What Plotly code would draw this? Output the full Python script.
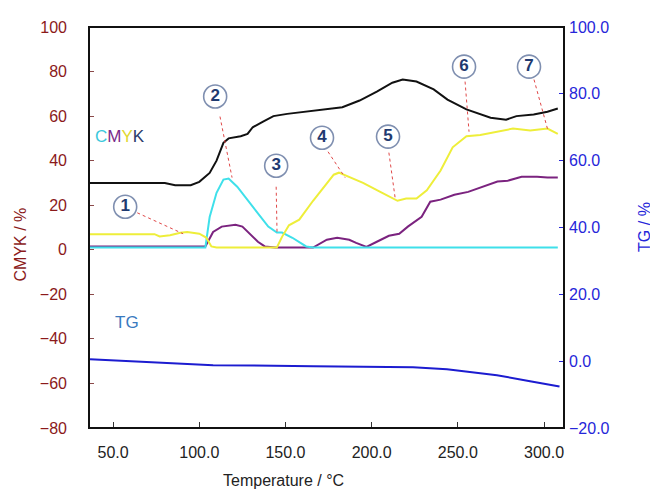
import plotly.graph_objects as go

# ---- data ----
k_x = [36, 80, 86, 95, 100, 106, 110, 114, 117, 124, 128, 131, 137, 143, 151, 162, 174, 183, 193, 203, 212, 218, 226, 236, 244, 255, 269, 278, 284, 294, 302, 308]
k_y = [30, 30, 29, 29, 30.5, 34.5, 40, 48, 50, 51, 52, 55, 57.5, 60, 61, 62, 63, 64, 67, 71, 75, 76.4, 75.5, 72, 67.4, 63, 59.3, 58.4, 60, 60.7, 62, 63.4]

c_x = [36, 103.5, 106, 110, 114, 117, 122, 128, 134, 140, 145, 148, 154, 162, 166, 308]
c_y = [1, 1, 14.7, 25.6, 31.5, 32, 28.3, 22.5, 16.6, 10.4, 7.7, 7.7, 5.4, 1.5, 1, 1]

m_x = [36, 103.5, 105, 108, 113, 121, 125, 128, 134, 138, 144, 166, 174, 180, 187, 191, 197, 203, 210, 216, 221, 229, 234, 240, 248, 256, 264, 273, 279, 287, 296, 302, 308]
m_y = [1.5, 1.5, 3.6, 8, 10.4, 11.2, 10.4, 8, 3.6, 1.5, 1, 1, 4.5, 5.4, 4.5, 3.1, 1.3, 3.6, 6.3, 7.2, 10.4, 14.8, 21.6, 22.5, 24.7, 26, 28.3, 30.6, 31, 32.8, 32.8, 32.4, 32.4]

y_x = [36, 74, 77, 83, 89, 93, 100, 104, 107, 110, 145, 148, 152, 158, 166, 174, 178, 181, 188, 195, 205, 215, 220, 226, 232, 240, 247, 255, 263, 273, 282, 292, 302, 308]
y_y = [7, 7, 6, 6.5, 7.6, 8, 7.2, 5.5, 1.5, 1, 1, 5.8, 11, 13.5, 22, 30, 33.7, 34.6, 32.4, 30, 26, 22, 23, 23, 26.7, 35.6, 46, 51, 51.5, 53, 54.4, 53.5, 54.4, 52]

tg_x = [36.6, 69.7, 108, 166, 224, 243.7, 272.7, 291.9, 309]
tg_y = [0.6, -0.3, -1.2, -1.5, -1.8, -2.4, -4.2, -6, -7.6]

x_ticks = [50, 100, 150, 200, 250, 300]

# callouts: number, label position, leader start, leader end (data coords)
callout_nums = ["1", "2", "3", "4", "5", "6", "7"]
callout_x = [57, 109.2, 144.6, 171.2, 209.5, 253.6, 291.3]
callout_y = [19.3, 68.8, 37.7, 50.3, 50.8, 82.2, 82.2]
leader_from = [(64, 16.6), (112, 59.8), (144.6, 28.3), (174.7, 44), (210, 43.6), (254.2, 75.5), (294.2, 76.4)]
leader_to = [(90.6, 7.2), (119, 32.4), (145.1, 7.6), (184.6, 32.4), (213.6, 23.4), (256.5, 53), (302.3, 53.5)]

FONT = "Liberation Sans, Arial, sans-serif"
RED = "#8b1a1a"
BLUE = "#2626d9"

fig = go.Figure()
fig.add_trace(go.Scatter(x=k_x, y=k_y, mode="lines", line=dict(color="#111111", width=2), name="K"))
fig.add_trace(go.Scatter(x=m_x, y=m_y, mode="lines", line=dict(color="#7b237f", width=2), name="M"))
fig.add_trace(go.Scatter(x=c_x, y=c_y, mode="lines", line=dict(color="#3fe0ea", width=2), name="C"))
fig.add_trace(go.Scatter(x=y_x, y=y_y, mode="lines", line=dict(color="#eeee3a", width=2), name="Y"))
fig.add_trace(go.Scatter(x=tg_x, y=tg_y, mode="lines", line=dict(color="#1c1cd0", width=2), name="TG", yaxis="y2"))

for (fx, fy), (tx, ty) in zip(leader_from, leader_to):
    fig.add_shape(type="line", x0=fx, y0=fy, x1=tx, y1=ty, xref="x", yref="y",
                  line=dict(color="#e04848", width=1, dash="dot"))

fig.add_trace(go.Scatter(
    x=callout_x, y=callout_y, mode="markers+text",
    text=["<b>%s</b>" % n for n in callout_nums], textposition="middle center",
    textfont=dict(family=FONT, size=17, color="#1f3a70"),
    marker=dict(size=23, color="white", line=dict(color="#7f8fb0", width=1.6)),
    hoverinfo="skip", name="callouts"))

fig.add_annotation(x=38.3, y=50.8, xref="x", yref="y", xanchor="left", showarrow=False,
                   text="<span style='color:#3cc8dc'>C</span><span style='color:#7a2a8a'>M</span>"
                        "<span style='color:#e0d830'>Y</span><span style='color:#2a3a6a'>K</span>",
                   font=dict(family=FONT, size=17))
fig.add_annotation(x=50, y=-32.8, xref="x", yref="y", xanchor="left", showarrow=False,
                   text="TG", font=dict(family=FONT, size=17, color="#3a7abf"))

# axis titles
fig.add_annotation(x=-0.145, y=0.458, xref="paper", yref="paper", xanchor="center", yanchor="middle",
                   text="CMYK / %", textangle=-90,
                   showarrow=False, font=dict(family=FONT, size=16, color=RED))
fig.add_annotation(x=1.168, y=0.501, xref="paper", yref="paper", xanchor="center", yanchor="middle",
                   text="TG / %", textangle=-90,
                   showarrow=False, font=dict(family=FONT, size=16, color=BLUE))
fig.add_annotation(x=0.41, y=-0.130, xref="paper", yref="paper", xanchor="center", yanchor="middle",
                   text="Temperature / °C",
                   showarrow=False, font=dict(family=FONT, size=16, color="#222222"))

# frame
fig.add_shape(type="rect", xref="paper", yref="paper", x0=0, y0=0, x1=1, y1=1,
              line=dict(color="#111111", width=2), fillcolor="rgba(0,0,0,0)", layer="above")

fig.update_layout(
    width=650, height=481,
    margin=dict(l=81, r=94, t=19, b=61),
    paper_bgcolor="white", plot_bgcolor="white",
    showlegend=False,
    xaxis=dict(range=[36, 311.6], tickvals=x_ticks, tickformat=".1f", ticks="inside", ticklen=6,
               tickcolor="#333333", showgrid=False, zeroline=False,
               tickfont=dict(family=FONT, size=16, color="#222222"), ticklabelstandoff=13),
    yaxis=dict(range=[-80, 100], dtick=20, ticks="inside", ticklen=5, tickcolor="#8b4a4a",
               showgrid=False, zeroline=False, tickfont=dict(family=FONT, size=16, color=RED),
               ticklabelstandoff=21),
    yaxis2=dict(range=[-20, 100], dtick=20, tickformat=".1f", ticks="inside", ticklen=5,
                tickcolor=BLUE, overlaying="y", side="right", showgrid=False, zeroline=False,
                tickfont=dict(family=FONT, size=16, color=BLUE), ticklabelstandoff=4),
)

fig.write_html("out.html")
